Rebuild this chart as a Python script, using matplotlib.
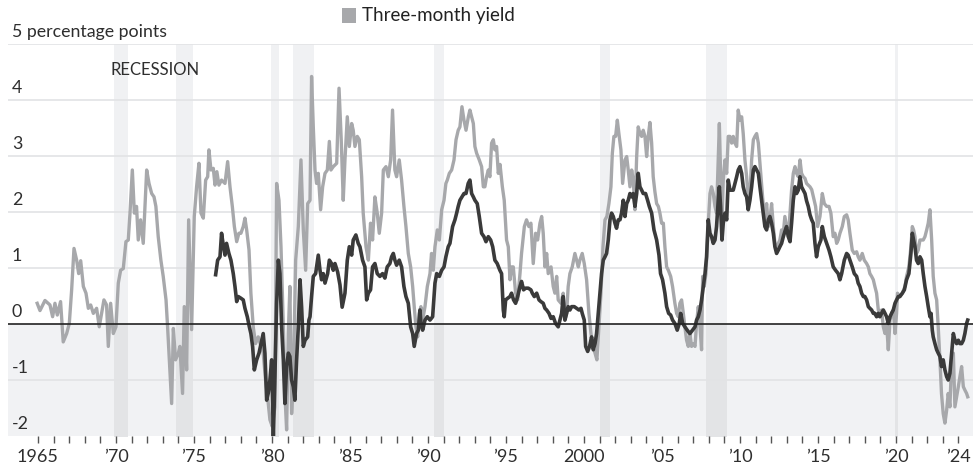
import matplotlib
matplotlib.use("Agg")
import matplotlib.pyplot as plt
from matplotlib.patches import Rectangle
from matplotlib.transforms import blended_transform_factory

plt.rcParams["font.family"] = ["Lato", "DejaVu Sans"]

# 10-year minus three-month Treasury yield, percentage points
three_month_years = [
    1964.95, 1965.13, 1965.45, 1965.77, 1965.94, 1966.09, 1966.24, 1966.45, 1966.62, 1966.84,
    1967.01, 1967.16, 1967.31, 1967.48, 1967.61, 1967.74, 1967.91, 1968.08, 1968.23, 1968.38,
    1968.55, 1968.76, 1968.93, 1969.08, 1969.23, 1969.40, 1969.51, 1969.66, 1969.83, 1970.00,
    1970.15, 1970.30, 1970.47, 1970.64, 1970.79, 1970.90, 1971.05, 1971.18, 1971.32, 1971.43,
    1971.58, 1971.75, 1971.97, 1972.12, 1972.29, 1972.44, 1972.56, 1972.71, 1972.88, 1973.03,
    1973.21, 1973.31, 1973.42, 1973.57, 1973.68, 1973.82, 1974.00, 1974.10, 1974.27, 1974.38,
    1974.53, 1974.66, 1974.85, 1975.02, 1975.17, 1975.32, 1975.45, 1975.60, 1975.75, 1975.88,
    1975.96, 1976.09, 1976.24, 1976.35, 1976.47, 1976.60, 1976.77, 1976.99, 1977.16, 1977.31,
    1977.46, 1977.59, 1977.74, 1977.88, 1978.01, 1978.16, 1978.27, 1978.38, 1978.53, 1978.65,
    1978.80, 1978.95, 1979.12, 1979.30, 1979.44, 1979.59, 1979.72, 1979.87, 1980.02, 1980.19,
    1980.30, 1980.45, 1980.58, 1980.73, 1980.83, 1980.94, 1981.05, 1981.15, 1981.26, 1981.37,
    1981.52, 1981.69, 1981.86, 1982.01, 1982.16, 1982.29, 1982.44, 1982.54, 1982.65, 1982.76,
    1982.86, 1982.97, 1983.12, 1983.25, 1983.40, 1983.55, 1983.68, 1983.78, 1983.93, 1984.15,
    1984.30, 1984.44, 1984.57, 1984.68, 1984.83, 1984.96, 1985.11, 1985.21, 1985.32, 1985.47,
    1985.60, 1985.75, 1985.85, 1986.03, 1986.18, 1986.32, 1986.45, 1986.60, 1986.75, 1986.88,
    1987.03, 1987.14, 1987.31, 1987.46, 1987.61, 1987.73, 1987.88, 1987.99, 1988.16, 1988.31,
    1988.46, 1988.59, 1988.74, 1988.89, 1989.02, 1989.12, 1989.23, 1989.34, 1989.44, 1989.55,
    1989.66, 1989.81, 1989.96, 1990.13, 1990.23, 1990.34, 1990.45, 1990.60, 1990.73, 1990.88,
    1991.03, 1991.15, 1991.24, 1991.37, 1991.52, 1991.67, 1991.80, 1991.94, 1992.05, 1992.18,
    1992.31, 1992.44, 1992.59, 1992.69, 1992.80, 1992.91, 1993.01, 1993.12, 1993.29, 1993.44,
    1993.55, 1993.65, 1993.76, 1993.87, 1993.97, 1994.08, 1994.19, 1994.29, 1994.40, 1994.51,
    1994.62, 1994.77, 1994.89, 1995.04, 1995.15, 1995.26, 1995.36, 1995.47, 1995.62, 1995.75,
    1995.90, 1996.00, 1996.18, 1996.32, 1996.47, 1996.60, 1996.75, 1996.90, 1997.03, 1997.18,
    1997.29, 1997.39, 1997.50, 1997.61, 1997.71, 1997.89, 1998.03, 1998.14, 1998.25, 1998.35,
    1998.53, 1998.67, 1998.78, 1998.89, 1998.99, 1999.10, 1999.25, 1999.42, 1999.53, 1999.64,
    1999.74, 1999.89, 2000.02, 2000.17, 2000.32, 2000.45, 2000.58, 2000.71, 2000.83, 2000.96,
    2001.09, 2001.22, 2001.35, 2001.47, 2001.60, 2001.73, 2001.82, 2001.92, 2002.03, 2002.14,
    2002.24, 2002.37, 2002.48, 2002.63, 2002.74, 2002.84, 2002.95, 2003.06, 2003.16, 2003.27,
    2003.38, 2003.48, 2003.59, 2003.70, 2003.80, 2003.91, 2004.02, 2004.12, 2004.23, 2004.34,
    2004.44, 2004.55, 2004.66, 2004.77, 2004.87, 2004.98, 2005.09, 2005.19, 2005.30, 2005.41,
    2005.56, 2005.68, 2005.83, 2005.94, 2006.05, 2006.15, 2006.26, 2006.37, 2006.47, 2006.58,
    2006.69, 2006.79, 2006.90, 2007.01, 2007.12, 2007.22, 2007.33, 2007.44, 2007.54, 2007.61,
    2007.71, 2007.82, 2007.97, 2008.08, 2008.18, 2008.29, 2008.40, 2008.50, 2008.61, 2008.68,
    2008.76, 2008.85, 2008.93, 2009.04, 2009.15, 2009.25, 2009.36, 2009.47, 2009.57, 2009.68,
    2009.79, 2009.89, 2010.00, 2010.11, 2010.21, 2010.32, 2010.43, 2010.53, 2010.64, 2010.75,
    2010.86, 2010.96, 2011.07, 2011.18, 2011.28, 2011.39, 2011.50, 2011.60, 2011.71, 2011.82,
    2011.92, 2012.03, 2012.14, 2012.24, 2012.35, 2012.46, 2012.56, 2012.67, 2012.78, 2012.88,
    2012.99, 2013.10, 2013.21, 2013.31, 2013.42, 2013.53, 2013.63, 2013.74, 2013.85, 2013.95,
    2014.06, 2014.17, 2014.27, 2014.38, 2014.49, 2014.60, 2014.76, 2014.85, 2014.98, 2015.13,
    2015.28, 2015.41, 2015.56, 2015.71, 2015.83, 2015.98, 2016.09, 2016.20, 2016.30, 2016.41,
    2016.56, 2016.69, 2016.84, 2016.94, 2017.05, 2017.20, 2017.33, 2017.48, 2017.58, 2017.69,
    2017.84, 2017.97, 2018.12, 2018.23, 2018.33, 2018.44, 2018.55, 2018.65, 2018.76, 2018.87,
    2018.97, 2019.08, 2019.19, 2019.30, 2019.40, 2019.51, 2019.62, 2019.72, 2019.83, 2019.94,
    2020.04, 2020.10, 2020.25, 2020.41, 2020.58, 2020.68, 2020.83, 2020.96, 2021.05, 2021.13,
    2021.22, 2021.32, 2021.43, 2021.54, 2021.65, 2021.75, 2021.86, 2021.97, 2022.07, 2022.18,
    2022.29, 2022.39, 2022.50, 2022.61, 2022.71, 2022.82, 2022.92, 2023.03, 2023.14, 2023.25,
    2023.35, 2023.46, 2023.57, 2023.68, 2023.78, 2023.89, 2024.00, 2024.10, 2024.21, 2024.32,
    2024.42, 2024.53, 2024.60,
]
three_month_values = [
    0.37, 0.24, 0.42, 0.34, 0.13, 0.37, 0.16, 0.40, -0.32, -0.17,
    0.01, 0.61, 1.35, 1.14, 0.90, 1.13, 0.67, 0.55, 0.28, 0.34,
    0.19, 0.28, -0.05, 0.19, 0.43, 0.34, -0.40, 0.37, -0.17, -0.05,
    0.73, 0.96, 0.99, 1.47, 1.50, 1.98, 2.75, 1.98, 2.10, 1.50,
    1.86, 1.44, 2.75, 2.51, 2.33, 2.27, 2.10, 1.56, 1.14, 0.85,
    0.43, -0.05, -0.64, -1.42, -0.08, -0.64, -0.52, -0.40, -1.24, 0.31,
    -0.82, 1.86, -0.10, 1.92, 2.45, 2.87, 1.98, 1.89, 2.57, 2.63,
    3.11, 2.75, 2.78, 2.48, 2.72, 2.48, 2.57, 2.51, 2.90, 2.45,
    2.10, 1.74, 1.47, 1.62, 1.62, 1.74, 1.89, 1.68, 1.32, 0.55,
    -0.05, -0.35, -0.23, -0.40, -0.52, -1.00, -1.30, -1.71, -1.83, -1.48,
    2.51, 2.21, 1.38, -0.05, -1.24, -1.89, -0.17, 0.67, -1.60, -1.00,
    1.14, 1.74, 2.93, 1.68, 0.96, 2.15, 2.21, 4.42, 3.52, 2.75,
    2.51, 2.69, 2.04, 2.45, 2.69, 2.75, 3.26, 2.75, 2.81, 2.87,
    4.21, 3.30, 2.21, 2.93, 3.70, 3.17, 3.58, 3.46, 3.17, 3.35,
    3.29, 2.63, 1.98, 1.38, 1.14, 1.80, 1.50, 2.27, 1.98, 1.62,
    1.98, 2.75, 2.81, 2.63, 2.93, 3.82, 2.75, 2.63, 2.93, 2.57,
    2.10, 1.74, 1.26, 1.02, 0.67, 0.31, -0.05, -0.23, 0.19, 0.31,
    0.07, 0.31, 0.67, 0.90, 1.26, 0.96, 1.38, 1.68, 1.50, 2.04,
    2.21, 2.51, 2.57, 2.69, 2.75, 2.93, 3.29, 3.46, 3.52, 3.88,
    3.64, 3.46, 3.70, 3.82, 3.70, 3.58, 3.17, 3.05, 2.93, 2.81,
    2.45, 2.45, 2.63, 2.75, 2.63, 3.23, 3.29, 3.11, 3.17, 2.69,
    2.85, 2.45, 2.21, 1.50, 1.38, 0.79, 1.02, 1.02, 0.55, 0.43,
    0.90, 1.26, 1.74, 1.86, 1.74, 1.80, 1.08, 1.62, 1.50, 1.80,
    1.92, 1.62, 1.02, 1.26, 0.90, 1.02, 0.67, 0.55, 0.85, 0.43,
    0.37, 0.55, 0.07, 0.19, 0.67, 0.90, 1.02, 1.26, 1.14, 1.02,
    1.14, 1.26, 1.08, 0.79, 0.19, -0.17, -0.40, -0.52, -0.64, -0.05,
    0.55, 1.38, 1.86, 1.92, 2.15, 2.45, 3.05, 3.35, 3.35, 3.64,
    3.40, 3.11, 2.51, 2.93, 2.99, 2.75, 2.45, 2.75, 2.57, 2.04,
    2.99, 3.52, 3.40, 3.35, 3.46, 3.35, 2.99, 3.35, 3.60, 3.23,
    2.63, 2.36, 2.15, 2.10, 1.98, 1.80, 1.80, 1.38, 1.02, 0.96,
    0.85, 0.67, 0.37, 0.19, 0.13, 0.37, 0.43, 0.19, -0.05, -0.29,
    -0.40, -0.17, -0.40, -0.35, -0.40, 0.01, 0.31, -0.05, -0.46, 0.85,
    0.67, 0.90, 1.80, 2.33, 2.45, 2.33, 2.10, 1.98, 2.93, 3.58,
    2.69, 1.92, 2.57, 2.93, 2.69, 3.35, 3.35, 3.23, 3.35, 3.23,
    3.17, 3.82, 3.64, 3.70, 3.40, 2.93, 2.63, 2.21, 2.33, 2.93,
    3.29, 3.35, 3.40, 3.23, 2.87, 2.45, 2.10, 1.86, 2.15, 1.74,
    1.86, 2.15, 1.74, 1.44, 1.32, 1.44, 1.50, 1.68, 1.62, 1.92,
    1.74, 1.56, 1.98, 2.39, 2.69, 2.81, 2.69, 2.63, 2.93, 2.69,
    2.63, 2.60, 2.51, 2.48, 2.45, 2.40, 2.21, 2.10, 1.74, 1.92,
    2.33, 2.15, 2.10, 2.10, 1.98, 1.56, 1.62, 1.44, 1.50, 1.62,
    1.74, 1.92, 1.95, 1.86, 1.62, 1.32, 1.26, 1.29, 1.20, 1.14,
    1.26, 1.14, 1.08, 1.02, 0.90, 0.85, 0.79, 0.67, 0.55, 0.25,
    0.19, 0.25, -0.05, -0.17, 0.01, -0.46, 0.07, 0.19, 0.25, -0.17,
    0.19, 0.55, 0.49, 0.55, 0.67, 0.85, 1.02, 1.38, 1.74, 1.68,
    1.56, 1.26, 1.32, 1.50, 1.50, 1.50, 1.56, 1.68, 1.80, 2.04,
    1.50, 0.85, 0.55, 0.43, -0.05, -0.64, -1.24, -1.60, -1.77, -1.54,
    -1.24, -1.48, -0.64, -0.52, -1.48, -1.30, -1.12, -0.94, -0.76, -1.12,
    -1.18, -1.24, -1.30,
]

# 10-year minus two-year Treasury yield, percentage points
two_year_years = [
    1976.39, 1976.52, 1976.67, 1976.77, 1976.88, 1976.99, 1977.09, 1977.24, 1977.37, 1977.52,
    1977.63, 1977.74, 1977.84, 1978.01, 1978.16, 1978.27, 1978.42, 1978.55, 1978.65, 1978.76,
    1978.87, 1979.02, 1979.17, 1979.30, 1979.44, 1979.55, 1979.66, 1979.76, 1979.87, 1979.98,
    1980.09, 1980.19, 1980.30, 1980.41, 1980.51, 1980.62, 1980.73, 1980.83, 1980.94, 1981.05,
    1981.15, 1981.26, 1981.37, 1981.47, 1981.58, 1981.69, 1981.80, 1981.90, 1982.01, 1982.12,
    1982.29, 1982.37, 1982.44, 1982.54, 1982.65, 1982.80, 1982.97, 1983.08, 1983.18, 1983.29,
    1983.40, 1983.57, 1983.68, 1983.82, 1983.93, 1984.04, 1984.21, 1984.36, 1984.50, 1984.68,
    1984.83, 1984.96, 1985.11, 1985.21, 1985.38, 1985.53, 1985.64, 1985.81, 1985.96, 1986.07,
    1986.18, 1986.32, 1986.45, 1986.60, 1986.75, 1986.92, 1987.09, 1987.24, 1987.39, 1987.56,
    1987.67, 1987.78, 1987.88, 1987.99, 1988.16, 1988.31, 1988.46, 1988.59, 1988.74, 1988.89,
    1989.02, 1989.12, 1989.27, 1989.38, 1989.49, 1989.55, 1989.66, 1989.81, 1989.96, 1990.13,
    1990.30, 1990.45, 1990.56, 1990.73, 1990.88, 1991.03, 1991.15, 1991.30, 1991.41, 1991.58,
    1991.73, 1991.84, 1991.94, 1992.05, 1992.18, 1992.31, 1992.44, 1992.58, 1992.69, 1992.80,
    1992.91, 1993.01, 1993.16, 1993.29, 1993.44, 1993.59, 1993.72, 1993.87, 1994.02, 1994.15,
    1994.29, 1994.44, 1994.61, 1994.72, 1994.83, 1994.89, 1994.98, 1995.11, 1995.26, 1995.36,
    1995.49, 1995.62, 1995.75, 1995.90, 1996.00, 1996.13, 1996.26, 1996.43, 1996.60, 1996.69,
    1996.82, 1996.97, 1997.12, 1997.24, 1997.39, 1997.50, 1997.61, 1997.76, 1997.89, 1998.03,
    1998.18, 1998.35, 1998.46, 1998.57, 1998.67, 1998.78, 1998.89, 1998.99, 1999.10, 1999.21,
    1999.38, 1999.53, 1999.68, 1999.81, 1999.89, 2000.02, 2000.11, 2000.24, 2000.36, 2000.49,
    2000.60, 2000.71, 2000.81, 2000.92, 2001.03, 2001.13, 2001.24, 2001.35, 2001.45, 2001.56,
    2001.67, 2001.77, 2001.88, 2001.99, 2002.09, 2002.20, 2002.31, 2002.41, 2002.52, 2002.63,
    2002.74, 2002.84, 2002.95, 2003.06, 2003.16, 2003.27, 2003.38, 2003.48, 2003.59, 2003.70,
    2003.80, 2003.95, 2004.08, 2004.19, 2004.34, 2004.49, 2004.66, 2004.81, 2004.91, 2005.04,
    2005.19, 2005.30, 2005.43, 2005.56, 2005.68, 2005.83, 2005.98, 2006.11, 2006.20, 2006.33,
    2006.47, 2006.62, 2006.79, 2006.96, 2007.12, 2007.22, 2007.33, 2007.44, 2007.54, 2007.65,
    2007.76, 2007.86, 2007.97, 2008.08, 2008.18, 2008.29, 2008.40, 2008.50, 2008.61, 2008.68,
    2008.76, 2008.85, 2008.93, 2009.04, 2009.15, 2009.25, 2009.36, 2009.47, 2009.57, 2009.68,
    2009.79, 2009.89, 2010.00, 2010.11, 2010.21, 2010.32, 2010.43, 2010.53, 2010.64, 2010.75,
    2010.86, 2010.96, 2011.07, 2011.18, 2011.28, 2011.39, 2011.50, 2011.60, 2011.71, 2011.82,
    2011.92, 2012.03, 2012.14, 2012.24, 2012.35, 2012.46, 2012.56, 2012.67, 2012.78, 2012.88,
    2012.99, 2013.10, 2013.21, 2013.31, 2013.42, 2013.53, 2013.63, 2013.74, 2013.85, 2013.95,
    2014.06, 2014.17, 2014.27, 2014.38, 2014.49, 2014.60, 2014.70, 2014.81, 2014.91, 2015.02,
    2015.19, 2015.28, 2015.41, 2015.56, 2015.71, 2015.83, 2015.98, 2016.13, 2016.30, 2016.41,
    2016.52, 2016.69, 2016.84, 2016.94, 2017.05, 2017.20, 2017.33, 2017.48, 2017.58, 2017.69,
    2017.80, 2017.91, 2018.01, 2018.12, 2018.23, 2018.33, 2018.44, 2018.55, 2018.65, 2018.76,
    2018.87, 2018.97, 2019.08, 2019.19, 2019.30, 2019.40, 2019.51, 2019.62, 2019.72, 2019.83,
    2019.94, 2020.04, 2020.15, 2020.25, 2020.41, 2020.54, 2020.68, 2020.83, 2020.96, 2021.05,
    2021.13, 2021.22, 2021.32, 2021.43, 2021.54, 2021.65, 2021.75, 2021.86, 2021.97, 2022.07,
    2022.18, 2022.25, 2022.33, 2022.39, 2022.50, 2022.61, 2022.71, 2022.82, 2022.92, 2023.03,
    2023.14, 2023.25, 2023.35, 2023.46, 2023.57, 2023.68, 2023.78, 2023.89, 2024.00, 2024.10,
    2024.21, 2024.32, 2024.42, 2024.53, 2024.60,
]
two_year_values = [
    0.88, 1.14, 1.20, 1.62, 1.41, 1.23, 1.44, 1.26, 1.14, 0.90,
    0.67, 0.40, 0.49, 0.46, 0.43, 0.28, 0.13, -0.05, -0.17, -0.40,
    -0.82, -0.64, -0.52, -0.35, -0.17, -0.52, -1.36, -1.24, -1.00, -0.64,
    -2.01, -0.94, 0.37, 1.14, 0.90, -0.05, -0.64, -1.42, -0.76, -0.52,
    -0.58, -1.00, -1.12, -1.36, -0.64, -0.05, 0.79, 0.31, -0.40, -0.29,
    -0.23, 0.07, 0.13, 0.49, 0.85, 0.90, 1.23, 0.96, 0.79, 0.90,
    0.73, 0.90, 1.14, 1.08, 0.96, 1.08, 0.93, 0.70, 0.30, 0.55,
    1.14, 1.38, 1.23, 1.50, 1.59, 1.44, 1.38, 1.14, 1.02, 0.43,
    0.55, 0.61, 1.02, 1.08, 0.90, 0.85, 0.90, 0.82, 1.02, 1.08,
    1.20, 1.26, 1.14, 1.05, 1.14, 1.02, 0.67, 0.49, 0.37, -0.05,
    -0.17, -0.40, -0.17, -0.11, 0.25, 0.01, -0.11, 0.07, 0.13, 0.07,
    0.13, 0.73, 0.90, 0.85, 0.96, 1.02, 1.20, 1.38, 1.44, 1.74,
    1.86, 1.98, 2.10, 2.21, 2.27, 2.33, 2.33, 2.51, 2.57, 2.33,
    2.27, 2.21, 2.15, 1.92, 1.62, 1.56, 1.47, 1.56, 1.50, 1.38,
    1.14, 1.08, 0.96, 0.90, 0.25, 0.13, 0.43, 0.46, 0.49, 0.55,
    0.43, 0.37, 0.49, 0.67, 0.76, 0.61, 0.64, 0.64, 0.61, 0.55,
    0.49, 0.55, 0.43, 0.40, 0.37, 0.28, 0.25, 0.19, 0.10, 0.13,
    0.01, -0.05, 0.07, 0.19, 0.49, 0.07, 0.19, 0.31, 0.25, 0.31,
    0.31, 0.28, 0.25, 0.28, 0.19, 0.07, -0.40, -0.49, -0.40, -0.23,
    -0.46, -0.35, -0.17, 0.19, 0.55, 0.90, 1.14, 1.20, 1.26, 1.50,
    1.86, 1.98, 1.92, 1.80, 1.71, 1.86, 1.86, 1.98, 2.21, 1.92,
    2.15, 2.21, 2.33, 2.27, 2.33, 2.10, 2.33, 2.69, 2.45, 2.39,
    2.33, 2.33, 2.21, 2.10, 1.98, 1.68, 1.50, 1.23, 0.90, 0.79,
    0.55, 0.31, 0.19, 0.16, 0.07, 0.01, -0.11, 0.01, 0.19, 0.01,
    -0.05, -0.11, -0.17, -0.11, -0.05, 0.07, 0.13, 0.25, 0.43, 0.67,
    0.90, 1.20, 1.86, 1.62, 1.56, 1.44, 1.50, 1.74, 2.21, 2.45,
    2.10, 1.50, 1.80, 1.98, 1.86, 2.57, 2.39, 2.39, 2.39, 2.51,
    2.63, 2.75, 2.81, 2.69, 2.45, 2.33, 2.27, 2.04, 2.21, 2.45,
    2.75, 2.81, 2.75, 2.69, 2.45, 2.21, 1.98, 1.74, 1.68, 1.86,
    1.92, 1.80, 1.62, 1.38, 1.26, 1.32, 1.38, 1.44, 1.56, 1.65,
    1.74, 1.56, 1.47, 1.80, 2.21, 2.45, 2.33, 2.39, 2.63, 2.45,
    2.39, 2.33, 2.20, 2.10, 1.95, 1.86, 1.80, 1.44, 1.20, 1.38,
    1.50, 1.74, 1.56, 1.44, 1.32, 1.20, 1.02, 0.96, 0.90, 0.79,
    0.90, 1.14, 1.26, 1.23, 1.14, 1.02, 0.90, 0.85, 0.73, 0.67,
    0.55, 0.49, 0.49, 0.43, 0.31, 0.28, 0.25, 0.19, 0.19, 0.13,
    0.19, 0.13, 0.19, 0.25, 0.19, 0.13, 0.01, 0.13, 0.19, 0.25,
    0.37, 0.43, 0.49, 0.49, 0.55, 0.61, 0.79, 0.90, 1.26, 1.62,
    1.50, 1.38, 1.14, 1.08, 1.20, 1.14, 0.90, 0.67, 0.49, 0.31,
    0.13, 0.19, -0.11, -0.23, -0.35, -0.46, -0.52, -0.58, -0.76, -0.64,
    -0.82, -0.94, -1.00, -0.88, -0.52, -0.17, -0.29, -0.35, -0.29, -0.35,
    -0.35, -0.29, -0.17, 0.01, 0.07,
]

recession_starts = [1969.90, 1973.85, 1979.95, 1981.38, 1990.40, 2001.00, 2007.82, 2019.95]
recession_ends = [1970.75, 1974.97, 1980.48, 1982.72, 1991.05, 2001.68, 2009.17, 2020.15]

tick_years = [1965, 1970, 1975, 1980, 1985, 1990, 1995, 2000, 2005, 2010, 2015, 2020, 2024]
tick_labels = ["1965", "\u201970", "\u201975", "\u201980", "\u201985", "\u201990", "\u201995",
               "2000", "\u201905", "\u201910", "\u201915", "\u201920", "\u201924"]
y_levels = [5, 4, 3, 2, 1, 0, -1, -2]
y_labels = ["5 percentage points", "4", "3", "2", "1", "0", "-1", "-2"]

W, H = 973, 468
GRAY_LINE = "#a7a8ab"
DARK_LINE = "#3a3a3a"
TEXT = "#2e2e2e"

fig = plt.figure(figsize=(W / 100, H / 100), dpi=100)
fig.patch.set_facecolor("white")
ax = fig.add_axes([8 / W, 1 - 436 / H, 965 / W, 392 / H])
ax.set_xlim(1963.08, 2024.94)
ax.set_ylim(-2.0, 5.0)
for s in ax.spines.values():
    s.set_visible(False)

# below-zero shading and recession bars
ax.axhspan(-2.05, 0, color="#f1f2f4", zorder=0, lw=0)
for start, end in zip(recession_starts, recession_ends):
    ax.fill_between([start, end], 0, 5, color="#f0f1f3", lw=0, zorder=0.5)
    ax.fill_between([start, end], -2.05, 0, color="#e3e4e6", lw=0, zorder=0.5)

for level in y_levels:
    if level in (0, -2):
        continue
    ax.axhline(level, color="#e2e3e5", lw=1.2, zorder=1)
ax.axhline(0, color="#222222", lw=1.2, zorder=4)

ax.plot(three_month_years, three_month_values, color=GRAY_LINE, lw=2.4,
        solid_joinstyle="round", zorder=2)
ax.plot(two_year_years, two_year_values, color=DARK_LINE, lw=2.6,
        solid_joinstyle="round", zorder=3)

# y labels sit above their gridlines at the left edge
trans = blended_transform_factory(fig.transFigure, ax.transData)
for level, label in zip(y_levels, y_labels):
    ax.text(12 / W, level + 0.08, label, transform=trans, ha="left", va="bottom",
            fontsize=12.8, color=TEXT, zorder=5)
ax.set_yticks([])

ax.set_xticks(tick_years)
ax.set_xticklabels(tick_labels)
ax.set_xticks(range(1965, 2025), minor=True)
ax.tick_params(axis="x", which="both", direction="out", length=5, width=1,
               color="#555555", labelsize=13, labelcolor=TEXT, pad=4)

ax.text(1969.65, 4.54, "RECESSION", ha="left", va="center", fontsize=12, color=TEXT)

# legend
fig.add_artist(Rectangle((342 / W, 1 - 23 / H), 14 / W, 15 / H, transform=fig.transFigure,
                         color=GRAY_LINE, lw=0))
fig.text(362 / W, 1 - 16 / H, "Three-month yield", ha="left", va="center",
         fontsize=13.5, color="#222222")

fig.savefig("out.png", dpi=100)
